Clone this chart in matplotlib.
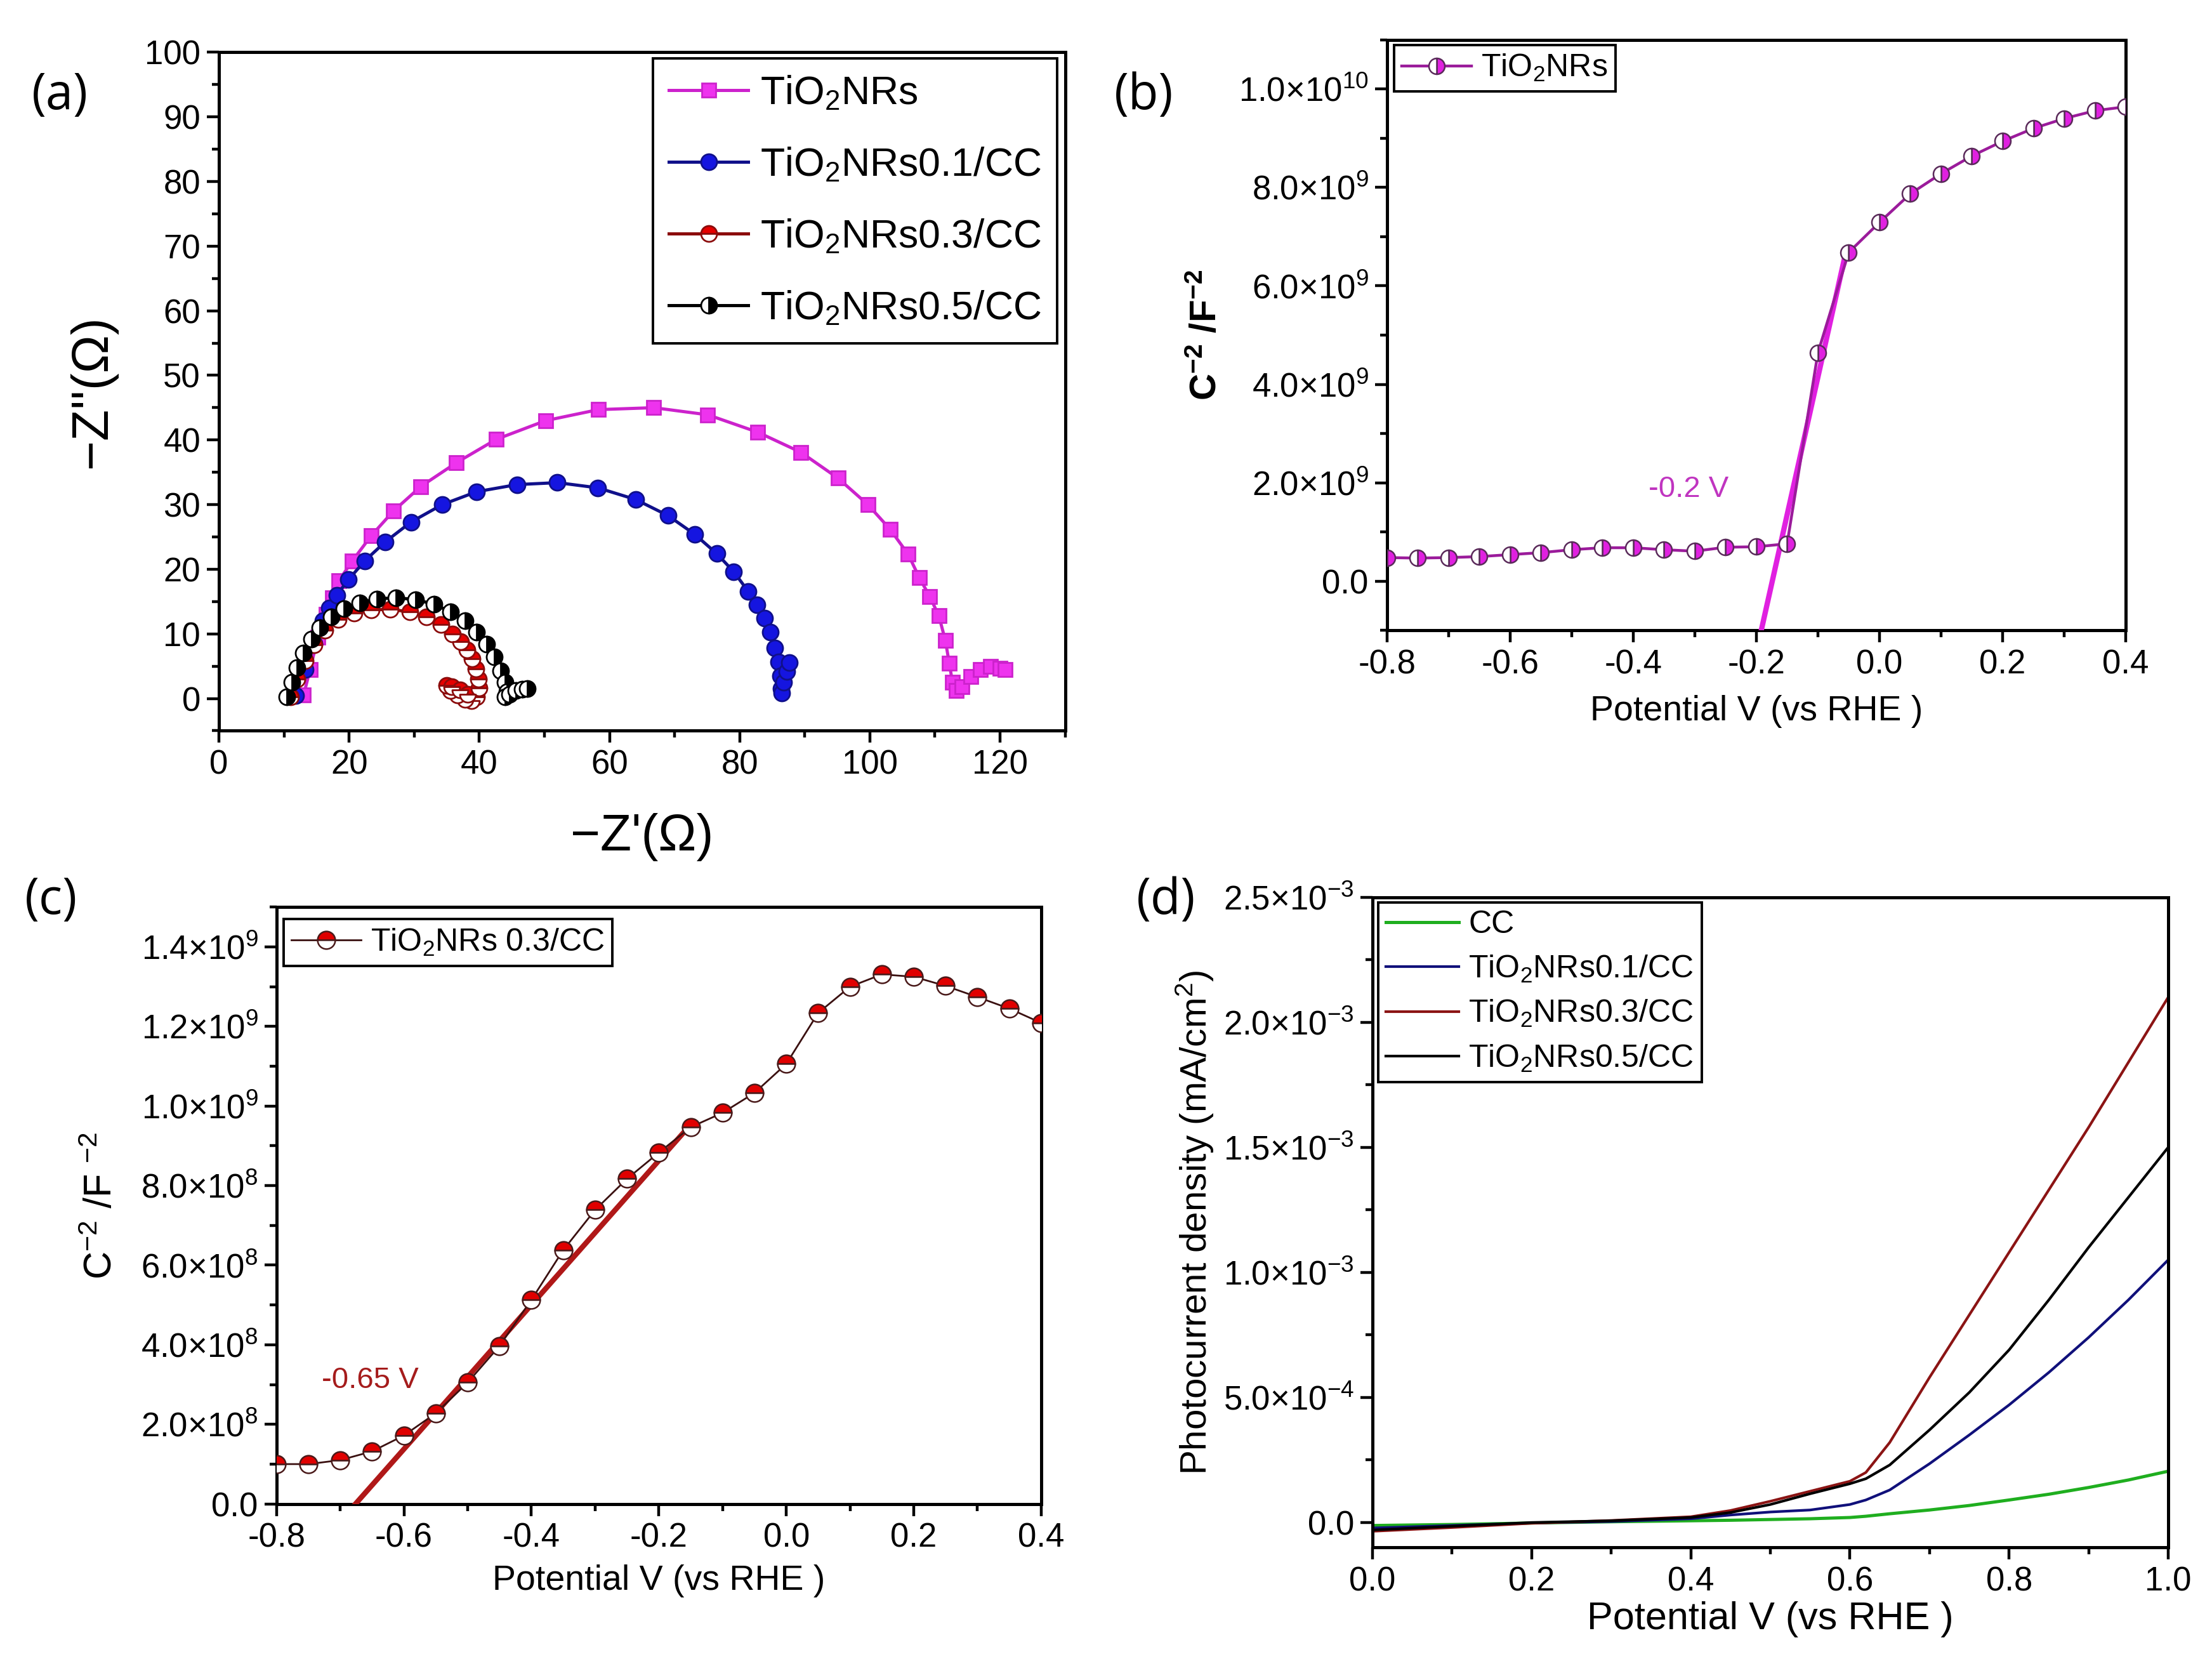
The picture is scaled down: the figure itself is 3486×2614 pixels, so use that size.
import matplotlib
matplotlib.use('Agg')
import matplotlib.pyplot as plt
from matplotlib import font_manager
from matplotlib.ticker import FixedLocator, MultipleLocator

installed = {f.name for f in font_manager.fontManager.ttflist}
sans = 'Liberation Sans' if 'Liberation Sans' in installed else 'DejaVu Sans'
plt.rcParams['font.family'] = [sans, 'DejaVu Sans']
plt.rcParams['mathtext.fontset'] = 'custom'
plt.rcParams['mathtext.rm'] = sans
plt.rcParams['mathtext.it'] = sans + ':italic'
plt.rcParams['mathtext.bf'] = sans + ':bold'
plt.rcParams['axes.linewidth'] = 1.8

# ---------------- (a) Nyquist data ----------------
pink_x = [13.0, 14.0, 15.2, 16.5, 17.4, 18.4, 20.5, 23.4, 26.8, 31.0, 36.5, 42.6, 50.2, 58.3, 66.8,
          75.1, 82.8, 89.4, 95.1, 99.7, 103.1, 105.9, 107.6, 109.2, 110.6, 111.6, 112.2, 112.7,
          113.3, 114.2, 115.5, 117.0, 118.5, 120.0, 120.8]
pink_y = [0.5, 4.5, 9.5, 13.0, 15.6, 18.2, 21.3, 25.2, 29.0, 32.8, 36.5, 40.1, 43.0, 44.7, 45.0,
          43.9, 41.2, 38.1, 34.1, 30.0, 26.2, 22.3, 18.7, 15.8, 12.8, 9.0, 5.5, 2.5,
          1.2, 1.8, 3.4, 4.5, 5.0, 4.7, 4.5]

blue_x = [11.8, 13.2, 14.6, 16.0, 17.0, 18.1, 19.9, 22.4, 25.5, 29.5, 34.3, 39.6, 45.8, 52.0, 58.2,
          64.0, 69.0, 73.1, 76.5, 79.1, 81.3, 82.7, 83.8, 84.7, 85.4, 86.0, 86.3, 86.4, 86.5, 86.8,
          87.2, 87.6]
blue_y = [0.4, 4.5, 8.5, 12.0, 14.0, 16.0, 18.4, 21.3, 24.2, 27.3, 30.0, 32.0, 33.1, 33.4, 32.6,
          30.8, 28.3, 25.4, 22.4, 19.6, 16.6, 14.5, 12.4, 10.3, 7.8, 5.7, 3.5, 1.5, 0.8, 2.5,
          4.2, 5.6]

red_x = [11.0, 12.0, 13.2, 14.6, 16.3, 18.3, 20.8, 23.4, 26.3, 29.3, 31.9, 34.1, 35.9, 37.1, 38.1,
         38.9, 39.5, 39.9, 40.0, 39.6, 38.8, 37.8, 36.6, 35.6, 35.0, 35.8, 37.0, 38.2]
red_y = [0.3, 3.0, 5.8, 8.3, 10.6, 12.2, 13.2, 13.7, 13.8, 13.4, 12.6, 11.4, 10.0, 8.8, 7.5,
         6.1, 4.6, 3.0, 1.6, 0.3, -0.3, -0.1, 0.5, 1.2, 2.0, 1.8, 1.3, 0.6]

black_x = [10.4, 11.2, 12.0, 13.0, 14.2, 15.5, 17.2, 19.2, 21.6, 24.3, 27.2, 30.2, 33.0, 35.6, 37.8,
           39.6, 41.1, 42.3, 43.3, 44.0, 44.3, 44.0, 44.6, 45.6, 46.6, 47.4]
black_y = [0.3, 2.5, 4.8, 7.0, 9.2, 11.0, 12.6, 13.9, 14.8, 15.4, 15.6, 15.3, 14.6, 13.4, 12.0,
           10.3, 8.4, 6.4, 4.3, 2.5, 1.0, 0.3, 0.6, 1.2, 1.4, 1.5]

# ---------------- (b) Mott-Schottky TiO2NRs ----------------
ms_x = [-0.80, -0.75, -0.70, -0.65, -0.60, -0.55, -0.50, -0.45, -0.40, -0.35, -0.30, -0.25, -0.20,
        -0.15, -0.10, -0.05, 0.00, 0.05, 0.10, 0.15, 0.20, 0.25, 0.30, 0.35, 0.40]
b_y = [0.48e9, 0.47e9, 0.48e9, 0.50e9, 0.54e9, 0.58e9, 0.64e9, 0.68e9, 0.68e9, 0.64e9, 0.61e9,
       0.69e9, 0.70e9, 0.76e9, 4.64e9, 6.68e9, 7.29e9, 7.87e9, 8.28e9, 8.64e9, 8.94e9, 9.20e9,
       9.40e9, 9.56e9, 9.64e9]
fit_b_x = [-0.192, -0.057]
fit_b_y = [-1.0e9, 6.55e9]

# ---------------- (c) Mott-Schottky TiO2NRs 0.3/CC ----------------
c_y = [1.00e8, 1.00e8, 1.10e8, 1.32e8, 1.72e8, 2.28e8, 3.05e8, 3.97e8, 5.13e8, 6.38e8, 7.39e8,
       8.17e8, 8.83e8, 9.47e8, 9.83e8, 10.33e8, 11.06e8, 12.34e8, 13.00e8, 13.31e8, 13.25e8,
       13.02e8, 12.74e8, 12.45e8, 12.09e8]
fit_c_x = [-0.676, -0.152]
fit_c_y = [0.0, 9.5e8]

# ---------------- (d) photocurrent ----------------
lsv_x = [0.0, 0.1, 0.2, 0.3, 0.4, 0.45, 0.5, 0.55, 0.6, 0.62, 0.65, 0.7, 0.75, 0.8, 0.85, 0.9, 0.95, 1.0]
cc_j = [-0.012, -0.008, -0.002, 0.003, 0.007, 0.009, 0.012, 0.015, 0.020, 0.025, 0.035, 0.050,
        0.068, 0.090, 0.113, 0.140, 0.170, 0.205]
j01 = [-0.022, -0.012, -0.002, 0.004, 0.015, 0.030, 0.042, 0.050, 0.072, 0.090, 0.130, 0.235,
       0.350, 0.470, 0.600, 0.740, 0.890, 1.050]
j03 = [-0.035, -0.020, -0.003, 0.008, 0.023, 0.048, 0.085, 0.125, 0.165, 0.200, 0.320, 0.580,
       0.830, 1.080, 1.330, 1.580, 1.840, 2.100]
j05 = [-0.030, -0.015, 0.000, 0.007, 0.020, 0.040, 0.072, 0.115, 0.155, 0.175, 0.230, 0.370,
       0.520, 0.690, 0.890, 1.100, 1.300, 1.500]
j_scale = 1e-3

fig = plt.figure(figsize=(17.43, 13.07), dpi=200)


def style_axes(ax, fs=19):
    ax.tick_params(which='both', direction='out', top=False, right=False, width=1.6, labelsize=fs)
    ax.tick_params(which='major', length=7)
    ax.tick_params(which='minor', length=4)


def legend(ax, fs, **kw):
    lg = ax.legend(fontsize=fs, frameon=True, fancybox=False, framealpha=1, **kw)
    lg.get_frame().set_edgecolor('black')
    lg.get_frame().set_linewidth(1.4)
    return lg


# (a)
ax = fig.add_axes([0.099, 0.5595, 0.3825, 0.409])
ax.plot(pink_x, pink_y, color='#cc22cc', lw=1.8, marker='s', ms=8, mfc='#ee33ee', mec='#cc22cc',
        label='TiO$_2$NRs')
ax.plot(blue_x, blue_y, color='#10108a', lw=1.8, marker='o', ms=9, mfc='#1515e0', mec='#10108a',
        label='TiO$_2$NRs0.1/CC')
ax.plot(red_x, red_y, color='#8b0c0c', lw=1.8, marker='o', ms=9, fillstyle='top', mfc='#e50000',
        mfcalt='white', mec='#8b0c0c', mew=1.0, label='TiO$_2$NRs0.3/CC')
ax.plot(black_x, black_y, color='black', lw=1.8, marker='o', ms=9, fillstyle='right', mfc='black',
        mfcalt='white', mec='black', mew=1.0, label='TiO$_2$NRs0.5/CC')
ax.set_xlim(0, 130)
ax.set_ylim(-5, 100)
ax.xaxis.set_major_locator(FixedLocator([0, 20, 40, 60, 80, 100, 120]))
ax.xaxis.set_minor_locator(MultipleLocator(10))
ax.yaxis.set_major_locator(FixedLocator(list(range(0, 101, 10))))
ax.yaxis.set_minor_locator(MultipleLocator(5))
style_axes(ax)
ax.set_xlabel("\u2212Z'(\u03a9)", fontsize=29, labelpad=18)
ax.set_ylabel("\u2212Z''(\u03a9)", fontsize=29, labelpad=16)
legend(ax, 22.5, loc='upper right', bbox_to_anchor=(0.995, 0.997), borderaxespad=0.1,
       handlelength=2.0, labelspacing=0.85, handletextpad=0.3, borderpad=0.4)

# (b)
ax = fig.add_axes([0.627, 0.620, 0.334, 0.356])
ax.plot(fit_b_x, fit_b_y, color='#e020e0', lw=3.0, zorder=3)
ax.plot(ms_x, b_y, color='#9b1b9b', lw=1.6, marker='o', ms=9, fillstyle='right', mfc='#e020e0',
        mfcalt='white', mec='#5a2a5a', mew=0.9, label='TiO$_2$NRs', zorder=4)
ax.set_xlim(-0.8, 0.4)
ax.set_ylim(-1e9, 1.1e10)
ax.xaxis.set_major_locator(FixedLocator([-0.8, -0.6, -0.4, -0.2, 0.0, 0.2, 0.4]))
ax.xaxis.set_minor_locator(MultipleLocator(0.1))
b_ticks = [0, 2e9, 4e9, 6e9, 8e9, 1e10]
b_labels = ['0.0', r'2.0$\times$10$^{9}$', r'4.0$\times$10$^{9}$', r'6.0$\times$10$^{9}$',
            r'8.0$\times$10$^{9}$', r'1.0$\times$10$^{10}$']
ax.set_yticks(b_ticks)
ax.set_yticklabels(b_labels)
ax.yaxis.set_minor_locator(MultipleLocator(1e9))
ax.set_xticklabels(['-0.8', '-0.6', '-0.4', '-0.2', '0.0', '0.2', '0.4'])
style_axes(ax)
ax.set_xlabel('Potential V (vs RHE )', fontsize=20, labelpad=8)
ax.set_ylabel(r'C$^{\mathbf{-2}}$ /F$^{\mathbf{-2}}$', fontsize=21, fontweight='bold', labelpad=8)
ax.text(-0.31, 1.87e9, '-0.2 V', color='#c035c0', fontsize=17, ha='center', va='center')
legend(ax, 18, loc='upper left', bbox_to_anchor=(0.005, 0.997), borderaxespad=0.1,
       handlelength=2.2, handletextpad=0.3, borderpad=0.25)

# (c)
ax = fig.add_axes([0.125, 0.0935, 0.3457, 0.3597])
ax.plot(fit_c_x, fit_c_y, color='#b01818', lw=3.0, zorder=3)
ax.plot(ms_x, c_y, color='#3a1010', lw=1.0, marker='o', ms=10, fillstyle='top', mfc='#e00000',
        mfcalt='white', mec='#4a1a1a', mew=0.9, label='TiO$_2$NRs 0.3/CC', zorder=4)
ax.set_xlim(-0.8, 0.4)
ax.set_ylim(0, 1.5e9)
ax.xaxis.set_major_locator(FixedLocator([-0.8, -0.6, -0.4, -0.2, 0.0, 0.2, 0.4]))
ax.xaxis.set_minor_locator(MultipleLocator(0.1))
c_ticks = [0, 2e8, 4e8, 6e8, 8e8, 1e9, 1.2e9, 1.4e9]
c_labels = ['0.0', r'2.0$\times$10$^{8}$', r'4.0$\times$10$^{8}$', r'6.0$\times$10$^{8}$',
            r'8.0$\times$10$^{8}$', r'1.0$\times$10$^{9}$', r'1.2$\times$10$^{9}$',
            r'1.4$\times$10$^{9}$']
ax.set_yticks(c_ticks)
ax.set_yticklabels(c_labels)
ax.yaxis.set_minor_locator(MultipleLocator(1e8))
ax.set_xticklabels(['-0.8', '-0.6', '-0.4', '-0.2', '0.0', '0.2', '0.4'])
style_axes(ax)
ax.set_xlabel('Potential V (vs RHE )', fontsize=20, labelpad=6)
ax.set_ylabel(r'C$^{-2}$ /F $^{-2}$', fontsize=22, labelpad=12)
ax.text(-0.653, 3.1e8, '-0.65 V', color='#a51c1c', fontsize=17, ha='center', va='center')
legend(ax, 18, loc='upper left', bbox_to_anchor=(0.005, 0.985), borderaxespad=0.1,
       handlelength=2.2, handletextpad=0.3, borderpad=0.25)

# (d)
ax = fig.add_axes([0.6205, 0.0672, 0.3597, 0.392])
ax.plot(lsv_x, [v * j_scale for v in cc_j], color='#1fae1f', lw=1.8, label='CC')
ax.plot(lsv_x, [v * j_scale for v in j01], color='#10107a', lw=1.5, label='TiO$_2$NRs0.1/CC')
ax.plot(lsv_x, [v * j_scale for v in j03], color='#8b1414', lw=1.5, label='TiO$_2$NRs0.3/CC')
ax.plot(lsv_x, [v * j_scale for v in j05], color='black', lw=1.5, label='TiO$_2$NRs0.5/CC')
ax.set_xlim(0, 1.0)
ax.set_ylim(-1e-4, 2.5e-3)
ax.xaxis.set_major_locator(FixedLocator([0.0, 0.2, 0.4, 0.6, 0.8, 1.0]))
ax.xaxis.set_minor_locator(MultipleLocator(0.1))
ax.set_xticklabels(['0.0', '0.2', '0.4', '0.6', '0.8', '1.0'])
d_ticks = [0, 5e-4, 1e-3, 1.5e-3, 2e-3, 2.5e-3]
d_labels = ['0.0', r'5.0$\times$10$^{-4}$', r'1.0$\times$10$^{-3}$', r'1.5$\times$10$^{-3}$',
            r'2.0$\times$10$^{-3}$', r'2.5$\times$10$^{-3}$']
ax.set_yticks(d_ticks)
ax.set_yticklabels(d_labels)
ax.yaxis.set_minor_locator(MultipleLocator(2.5e-4))
style_axes(ax)
ax.set_xlabel('Potential V (vs RHE )', fontsize=22, labelpad=2)
ax.set_ylabel('Photocurrent density (mA/cm$^2$)', fontsize=21, labelpad=4)
legend(ax, 18, loc='upper left', bbox_to_anchor=(0.003, 0.997), borderaxespad=0.1,
       handlelength=2.3, handletextpad=0.3, labelspacing=0.45, borderpad=0.25)

# panel letters
for lbl, (px, py) in {'(a)': (0.027, 0.942), '(b)': (0.517, 0.942),
                      '(c)': (0.023, 0.457), '(d)': (0.527, 0.457)}.items():
    fig.text(px, py, lbl, fontsize=28, family=['Open Sans', 'DejaVu Sans'], ha='center', va='center')

fig.savefig('out.png', dpi=200, facecolor='white')
